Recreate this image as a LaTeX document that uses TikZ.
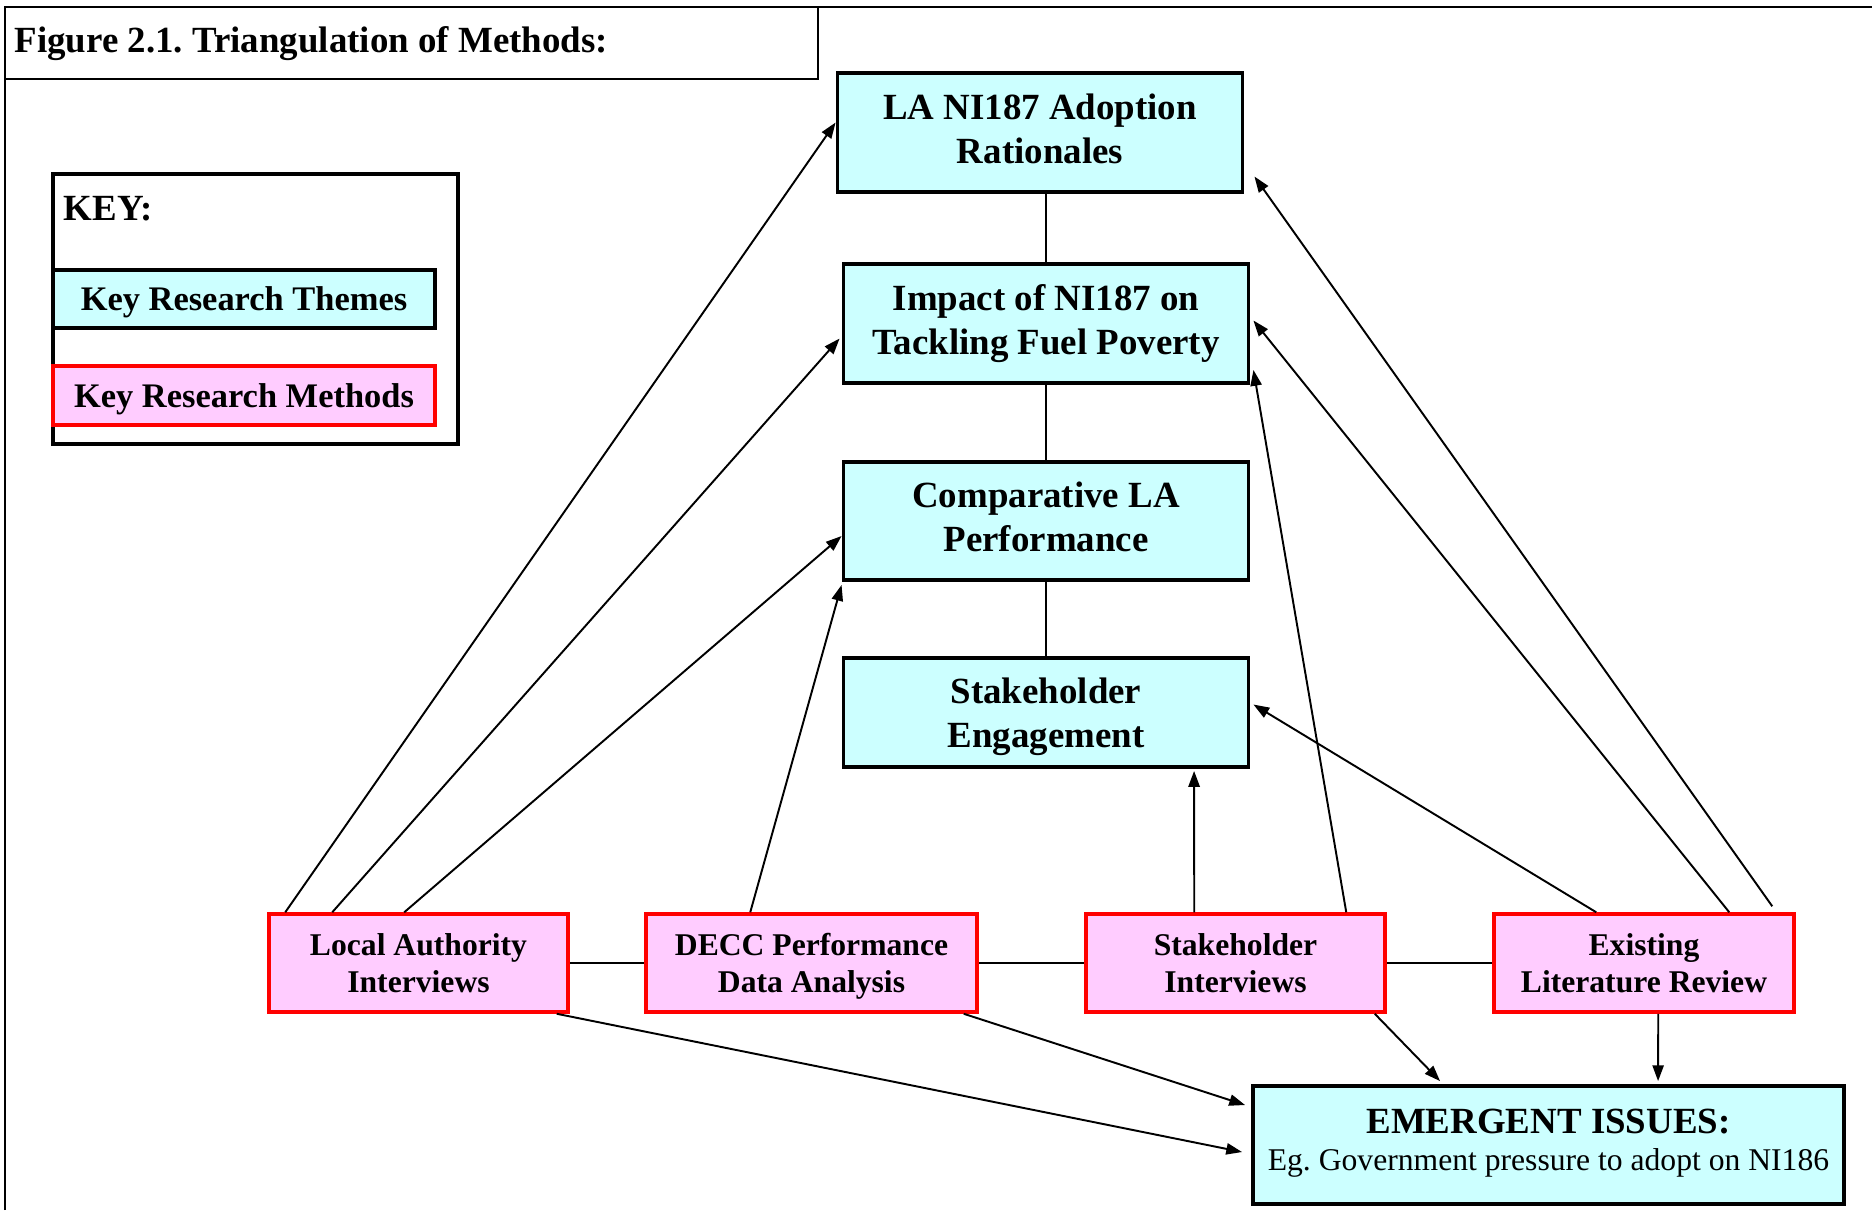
\documentclass[tikz,border=0pt]{standalone}
\usepackage{fontspec}
\setmainfont{Liberation Serif}
\frenchspacing
\definecolor{themecyan}{RGB}{204,255,255}
\definecolor{methodpink}{RGB}{255,204,255}
\definecolor{methodred}{RGB}{255,0,0}
\usetikzlibrary{arrows.meta, calc}

\begin{document}
\begin{tikzpicture}[x=0.1mm, y=-0.1mm,
  themebox/.style={draw=black, line width=1.1pt, fill=themecyan, inner sep=0pt},
  methodbox/.style={draw=methodred, line width=1pt, fill=methodpink, inner sep=0pt},
  theme/.style={themebox, align=center, minimum width=40.5mm, text depth=2.3pt,
    font=\fontsize{10.5}{12.5}\selectfont\bfseries},
  method/.style={methodbox, align=center, minimum height=9.8mm, text depth=0pt,
    font=\fontsize{9}{10.5}\selectfont\bfseries},
  keysample/.style={minimum width=38.2mm, text depth=0pt, font=\fontsize{9.8}{11}\selectfont\bfseries},
  frame/.style={draw=black, line width=0.8pt},
  link/.style={line width=0.6pt},
  feed/.style={line width=0.55pt, -{Triangle[length=4.5pt, width=3.2pt]}}]
  \useasboundingbox (0,0) rectangle (1872,1210);

  % outer frame and title
  \draw[frame] (5,1210) -- (5,7) -- (1872,7);
  \draw[frame] (5,7) rectangle (818,79);
  \node[anchor=base west, inner sep=0pt, font=\fontsize{10.5}{12.5}\selectfont\bfseries] (title) at (14,52) {Figure 2.1. Triangulation of Methods:};

  % key
  \node[frame, line width=0.9pt, minimum width=40.5mm, minimum height=27mm, inner sep=0pt] (keybox) at (255.5,309) {};
  \node[anchor=base west, inner sep=0pt, font=\fontsize{10.5}{12.5}\selectfont\bfseries] (keytitle) at (63,220) {KEY:};
  \node[themebox, keysample, minimum height=5.8mm] (keytheme) at (244,299) {Key Research Themes};
  \node[methodbox, keysample, minimum height=5.9mm] (keymethod) at (244,395.5) {Key Research Methods};

  % research themes
  \node[theme, minimum height=11.9mm] (lana) at (1040,132.5) {LA NI187 Adoption\\Rationales};
  \node[theme, minimum height=11.9mm] (impact) at (1046,323.5) {Impact of NI187 on\\Tackling Fuel Poverty};
  \node[theme, minimum height=11.8mm] (comp) at (1046,521) {Comparative LA\\Performance};
  \node[theme, minimum height=10.9mm, text depth=0pt] (engage) at (1046,712.5) {Stakeholder\\Engagement};

  % research methods
  \node[method, minimum width=29.9mm] (lai) at (418.5,963) {Local Authority\\Interviews};
  \node[method, minimum width=33.1mm] (decc) at (811.5,963) {DECC Performance\\Data Analysis};
  \node[method, minimum width=29.9mm] (shi) at (1235.5,963) {Stakeholder\\Interviews};
  \node[method, minimum width=30mm] (lit) at (1644,963) {Existing\\Literature Review};

  % emergent issues
  \node[themebox, align=center, minimum width=59.1mm, minimum height=11.8mm, text depth=3.15pt,
    font=\fontsize{10.5}{10.5}\selectfont\bfseries] (issues) at (1548.5,1145)
    {EMERGENT ISSUES:\\{\fontsize{9}{10.5}\selectfont\mdseries Eg. Government pressure to adopt on NI186}};

  % links between themes and between methods
  \draw[link] (lana.south -| impact.north) -- (impact.north);
  \draw[link] (impact.south) -- (comp.north);
  \draw[link] (comp.south) -- (engage.north);
  \draw[link, line width=0.8pt] (lai.east) -- (decc.west);
  \draw[link, line width=0.8pt] (decc.east) -- (shi.west);
  \draw[link, line width=0.8pt] (shi.east) -- (lit.west);

  % methods feeding themes
  \draw[feed] ($(lai.north west)+(18,0)$) -- ($(lana.west)+(0,-10)$);
  \draw[feed] ($(lai.north west)+(65,0)$) -- ($(impact.west)+(-2,15)$);
  \draw[feed] ($(lai.north west)+(137,0)$) -- ($(comp.west)+(0,15)$);
  \draw[feed] ($(decc.north west)+(106,0)$) -- ($(comp.south west)+(0,3)$);
  \draw[feed] ($(shi.north west)+(110,0)$) -- ($(engage.south west)+(352.5,2)$);
  \draw[feed] ($(shi.north west)+(262,0)$) -- ($(impact.south east)+(3,-15)$);
  \draw[feed] ($(lit.north west)+(104,0)$) -- ($(engage.east)+(3,-8)$);
  \draw[feed] ($(lit.north west)+(237,0)$) -- ($(impact.east)+(3,-3)$);
  \draw[feed] ($(lit.north west)+(280,-6)$) -- ($(lana.east)+(10,44)$);

  % methods feeding emergent issues
  \draw[feed] ($(lai.south east)+(-13,0)$) -- ($(issues.west)+(-9,7)$);
  \draw[feed] ($(decc.south east)+(-15,0)$) -- ($(issues.west)+(-6,-40)$);
  \draw[feed] ($(shi.south east)+(-12,0)$) -- ($(issues.north west)+(189,-3)$);
  \draw[feed] ($(lit.south west)+(166,0)$) -- ($(issues.north west)+(407,-3)$);
\end{tikzpicture}
\end{document}
